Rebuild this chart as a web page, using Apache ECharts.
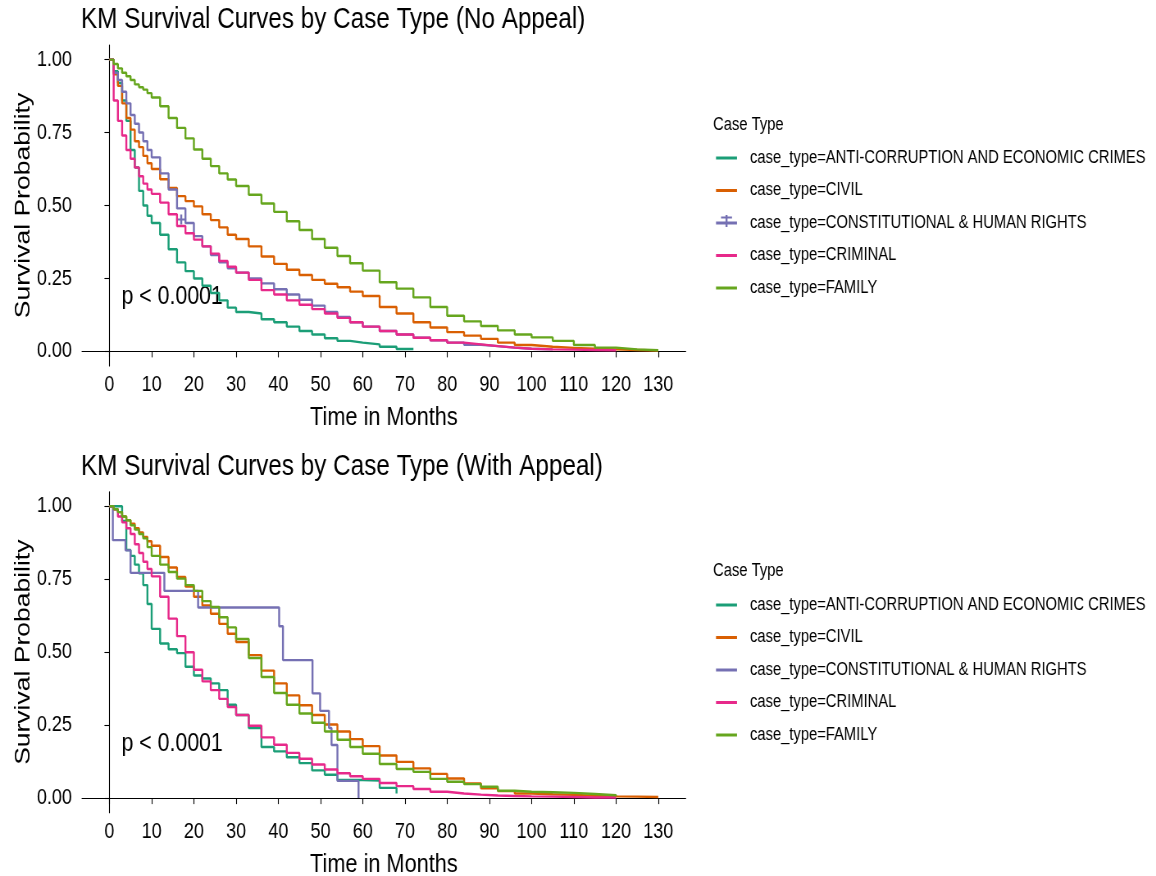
<!DOCTYPE html>
<html><head><meta charset="utf-8">
<script src="https://cdn.jsdelivr.net/npm/echarts@6/dist/echarts.min.js"></script>
<style>
html,body{margin:0;padding:0;background:#fff;overflow:hidden;width:1156px;height:876px}
#c{width:1410px;height:876px;transform:scaleX(0.819858);transform-origin:0 0}
</style>
</head><body><div id="c"></div>
<script>
const FONT = "'Liberation Sans',Arial,sans-serif";

const titles = ['KM Survival Curves by Case Type (No Appeal)', 'KM Survival Curves by Case Type (With Appeal)'];
const legendTitle = 'Case Type';
const categories = [
  'case_type=ANTI-CORRUPTION AND ECONOMIC CRIMES',
  'case_type=CIVIL',
  'case_type=CONSTITUTIONAL & HUMAN RIGHTS',
  'case_type=CRIMINAL',
  'case_type=FAMILY'
];
const colors = ['#1B9E77', '#D95F02', '#7570B3', '#E7298A', '#66A61E'];
const xTicks = [0,10,20,30,40,50,60,70,80,90,100,110,120,130];
const yTicks = [0, 0.25, 0.5, 0.75, 1];

const times = [0,1,2,3,4,5,6,7,8,9,10,12,14,16,18,20,22,24,26,28,30,33,36,39,42,45,48,51,54,57,60,64,68,72,76,80,84,88,92,96,100,105,110,115,120,125,130];

// No appeal
const noAppealAnti = [1,.96,.92,.86,.79,.69,.63,.55,.50,.465,.44, .40,.35,.305,.275,.25,.225,.20,.175,.15,.135, .13,.11,.10,.085,.07,.058,.045,.036,.03,.024, .016,.008,.006,null,null,null,null,null,null,null, null,null,null,null,null,null];
const noAppealCivil = [1,.95,.91,.85,.80,.76,.72,.70,.67,.645,.625, .59,.56,.532,.515,.497,.47,.45,.425,.40,.385, .36,.325,.30,.28,.262,.245,.232,.22,.205,.19, .152,.13,.10,.082,.066,.054,.043,.03,.022,.016, .012,.009,.007,.005,.003,.002];
const noAppealConst = [1,.955,.93,.89,.85,.81,.78,.75,.72,.69,.665, .61,.555,.49,.44,.395,.36,.33,.305,.285,.27, .25,.233,.213,.195,.177,.157,.135,.118,.10,.085, .07,.058,.047,.038,.03,.023,.018,.013,.009,.007, .005,null,null,null,null,null];
const noAppealCrim = [1,.86,.79,.74,.69,.66,.63,.60,.575,.555,.54, .51,.47,.43,.405,.383,.36,.335,.31,.29,.27, .245,.21,.195,.175,.16,.145,.13,.115,.10,.085, .07,.058,.047,.038,.03,.024,.018,.013,.009,.007, .006,.005,.004,.003,null,null];
const noAppealFam = [1,.985,.97,.955,.943,.93,.915,.905,.897,.885,.87, .84,.80,.766,.73,.692,.66,.635,.61,.589,.567, .537,.507,.478,.446,.416,.385,.355,.327,.302,.277, .237,.215,.185,.152,.122,.103,.087,.072,.058,.048, .036,.022,.013,.007,.004,.002];
const noAppealCensor = [[17.0, 0.452]];

// With appeal
const appealAnti = [1,1,1,.95,.85,.83,.80,.77,.73,.665,.58, .53,.51,.497,.45,.42,.41,.393,.37,.32,.285, .24,.175,.16,.14,.12,.095,.08,.062,.062,.06, .035,.016,null,null,null,null,null,null,null,null, null,null,null,null,null,null];
const appealCivil = [1,.99,.98,.965,.952,.94,.925,.91,.895,.88,.865, .826,.79,.758,.725,.69,.66,.632,.597,.563,.535, .49,.437,.393,.352,.318,.285,.252,.228,.202,.178, .146,.124,.102,.083,.067,.05,.034,.024,.016,.013, .011,.008,.006,.005,.004,.003];
const appealConstTimes = [0,0.8,3.8,5,13,21,40.2,41.1,48.1,49.9,52,52.6,54,59];
const appealConst = [1,.884,.849,.772,.71,.653,.589,.473,.359,.299,.24,.182,.059,0];
const appealCrim = [1,.99,.965,.945,.925,.905,.87,.84,.81,.785,.76, .69,.615,.555,.50,.44,.40,.37,.34,.312,.285, .248,.208,.183,.155,.135,.115,.098,.085,.075,.066, .052,.041,.031,.022,.016,.012,.009,.007,.006,.005, .004,.002,.002,.002,null,null];
const appealFam = [1,.99,.98,.965,.952,.935,.92,.905,.89,.86,.83, .80,.775,.752,.73,.71,.675,.655,.62,.585,.545, .48,.415,.36,.32,.29,.258,.228,.20,.175,.152, .117,.10,.09,.066,.056,.048,.039,.025,.022,.02, .018,.014,.01,.007,null,null];

const pvalText = 'p < 0.0001';
const pvalPos = [2.85, 0.186];

function pairs(ts, vs) {
  const out = [];
  for (let i = 0; i < ts.length; i++) if (vs[i] !== null && vs[i] !== undefined) out.push([ts[i], vs[i]]);
  return out;
}

const panels = [
  [pairs(times, noAppealAnti), pairs(times, noAppealCivil), pairs(times, noAppealConst), pairs(times, noAppealCrim), pairs(times, noAppealFam)],
  [pairs(times, appealAnti), pairs(times, appealCivil), pairs(appealConstTimes, appealConst), pairs(times, appealCrim), pairs(times, appealFam)]
];

// page is squeezed horizontally (like the reference image); convert page x to chart x
const SX = 1156 / 1410;
const px = x => x / SX;
const OFF = 446.7;
const axisLineStyle = { color: '#000', width: 1.1 };

const grid = [0, 1].map(i => ({ left: px(82), top: 45 + i * OFF, width: px(603.7), height: 321, outerBoundsMode: 'none', containLabel: false }));

const xAxis = [0, 1].map(i => ({
  type: 'value', gridIndex: i, min: -6.5, max: 136.5,
  axisLine: { show: true, lineStyle: axisLineStyle },
  axisTick: { show: true, length: 6, customValues: xTicks, lineStyle: axisLineStyle },
  axisLabel: { customValues: xTicks, fontFamily: FONT, fontSize: 22, color: '#000', margin: 8 },
  splitLine: { show: false },
  name: 'Time in Months', nameLocation: 'middle', nameGap: 38, nameMoveOverlap: false,
  nameTextStyle: { fontFamily: FONT, fontSize: 26.5, color: '#000' }
}));

const yAxis = [0, 1].map(i => ({
  type: 'value', gridIndex: i, min: -0.05, max: 1.05,
  axisLine: { show: true, lineStyle: axisLineStyle },
  axisTick: { show: true, length: px(5), customValues: yTicks, lineStyle: axisLineStyle },
  axisLabel: { customValues: yTicks, formatter: v => v.toFixed(2), fontFamily: FONT, fontSize: 22, color: '#000', margin: px(10) },
  splitLine: { show: false },
  name: 'Survival Probability', nameLocation: 'middle', nameGap: 58, nameMoveOverlap: false,
  nameTextStyle: { fontFamily: FONT, fontSize: 26.5, color: '#000' }
}));

const title = [];
[0, 1].forEach(i => {
  title.push({ text: titles[i], left: px(81), top: 5 + i * OFF, padding: 0,
    textStyle: { fontFamily: FONT, fontSize: 29.6, fontWeight: 'normal', color: '#000' } });
  title.push({ text: legendTitle, left: px(713), top: 116 + i * 446.5, padding: 0,
    textStyle: { fontFamily: FONT, fontSize: 18, fontWeight: 'normal', color: '#000' } });
});

const legend = [0, 1].map(i => ({
  orient: 'vertical', left: px(716), top: 149 + i * 447, padding: 0,
  itemWidth: px(21), itemHeight: 3, itemGap: 14.5, icon: 'rect',
  selectedMode: false,
  textStyle: { fontFamily: FONT, fontSize: 18, color: '#000', lineHeight: 18, padding: [0, 0, 0, px(750) - px(737) - 5] },
  data: categories
}));

// censor "+" glyph on the CONSTITUTIONAL legend key of the first legend
const graphic = [{
  type: 'group', left: px(721), top: 215, silent: true,
  children: [
    { type: 'rect', shape: { x: px(4.5), y: 0, width: px(2), height: 12 }, style: { fill: colors[2] } },
    { type: 'rect', shape: { x: 0, y: 1.5, width: px(11), height: 2 }, style: { fill: colors[2] } }
  ]
}];

const series = [];
[0, 1].forEach(i => {
  categories.forEach((name, k) => {
    series.push({
      type: 'line', name, xAxisIndex: i, yAxisIndex: i, step: 'end',
      symbol: 'none', showSymbol: false, data: panels[i][k],
      lineStyle: { color: colors[k], width: 2.4 }, itemStyle: { color: colors[k] },
      emphasis: { disabled: true }, silent: true, animation: false
    });
  });
  series.push({
    type: 'scatter', name: 'pval' + i, xAxisIndex: i, yAxisIndex: i, symbolSize: 0,
    data: [pvalPos], silent: true, animation: false,
    itemStyle: { opacity: 1 },
    label: { show: true, formatter: pvalText, position: 'right', distance: 0, opacity: 1,
      fontFamily: FONT, fontSize: 26, color: '#000', textBorderWidth: 0 }
  });
});
series.push({
  type: 'scatter', name: 'censor', xAxisIndex: 0, yAxisIndex: 0,
  symbol: 'path://M4,0h2v4h4v2h-4v4h-2v-4h-4v-2h4z', symbolSize: [px(10), 10],
  itemStyle: { color: colors[2], opacity: 1 }, data: noAppealCensor, silent: true, animation: false
});

const chart = echarts.init(document.getElementById('c'), null, { renderer: 'canvas' });
chart.setOption({ backgroundColor: '#fff', animation: false, title, legend, grid, xAxis, yAxis, series, graphic, tooltip: { show: false } });
</script></body></html>
